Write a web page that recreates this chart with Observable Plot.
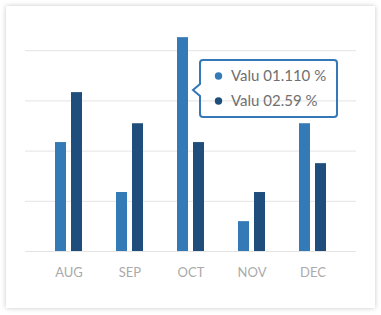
<!DOCTYPE html>
<html><head><meta charset="utf-8">
<script src="https://cdn.jsdelivr.net/npm/d3@7"></script>
<script src="https://cdn.jsdelivr.net/npm/@observablehq/plot@0.6"></script>
<style>
html,body{margin:0;padding:0;background:#fff;}
#wrap{position:relative;width:381px;height:315px;overflow:hidden;background:#fff;}
#card{position:absolute;left:6px;top:6px;width:369px;height:302px;background:#fff;box-shadow:0 0 5px rgba(0,0,0,0.22);}
#chart{position:absolute;left:0;top:0;}
</style></head><body>
<div id="wrap"><div id="card"></div><div id="chart"></div></div>
<script>
const months = ["AUG", "SEP", "OCT", "NOV", "DEC"];
const seriesA = [43.4, 23.5, 85.2, 11.9, 50.9];
const seriesB = [63.3, 50.9, 43.4, 23.5, 35.0];
const gridTicks = [0, 20, 40, 60, 80];
const tooltipLines = ["Valu 01.110 %", "Valu 02.59 %"];
const colorA = "#337ab7";
const colorB = "#1f4e7d";

const dataA = months.map((m, i) => ({month: m, value: seriesA[i]}));
const dataB = months.map((m, i) => ({month: m, value: seriesB[i]}));

const plot = Plot.plot({
  width: 381, height: 315,
  marginTop: 0, marginBottom: 64, marginLeft: 25, marginRight: 25,
  style: {background: "transparent", fontFamily: "Lato, sans-serif", fontSize: "13px", color: "#aaa"},
  x: {domain: months, paddingInner: 0.559, paddingOuter: 0.4816, label: null, tickSize: 0, tickPadding: 16},
  y: {domain: [0, 100], axis: null},
  marks: [
    Plot.ruleY(gridTicks, {stroke: "#e4e4e4", strokeWidth: 1}),
    Plot.barY(dataA, {x: "month", y: "value", fill: colorA, insetRight: 16}),
    Plot.barY(dataB, {x: "month", y: "value", fill: colorB, insetLeft: 16})
  ]
});
document.getElementById("chart").appendChild(plot);

// tooltip annotation
const svg = d3.select(plot);
const g = svg.append("g").attr("text-anchor", "start");
g.append("path")
  .attr("d", "M203,60 H334 A3,3 0 0 1 337,63 V114 A3,3 0 0 1 334,117 H203 A3,3 0 0 1 200,114 V96 L193,90 L200,84 V63 A3,3 0 0 1 203,60 Z")
  .attr("fill", "none").attr("stroke", "#3478b8").attr("stroke-width", 2);
const colors = [colorA, colorB];
tooltipLines.forEach((t, i) => {
  const cy = 76 + i * 25;
  g.append("circle").attr("cx", 218.5).attr("cy", cy).attr("r", 3.7).attr("fill", colors[i]);
  g.append("text").attr("x", 231).attr("y", cy + 5.4)
    .attr("text-anchor", "start")
    .attr("font-family", "Lato, sans-serif").attr("font-size", 15).attr("fill", "#707070")
    .text(t);
});
</script>
</body></html>
